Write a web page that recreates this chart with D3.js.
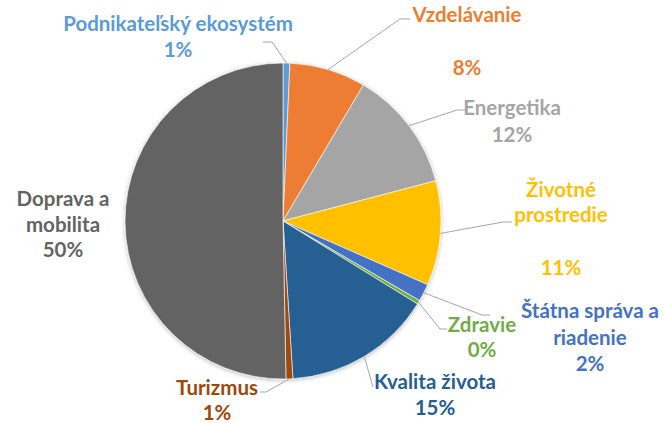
<!DOCTYPE html>
<html>
<head>
<meta charset="utf-8">
<script src="https://cdn.jsdelivr.net/npm/d3@7/dist/d3.min.js"></script>
<style>
    body { margin: 0; background: #ffffff; }
    svg { display: block; }
    .pc-label { font-family: Lato, "Open Sans", sans-serif; font-weight: bold; }
</style>
</head>
<body>
<div id="chart"></div>
<script>
/* data (percent of total) */
var categories = ["Podnikateľský ekosystém", "Vzdelávanie", "Energetika", "Životné prostredie",
                  "Štátna správa a riadenie", "Zdravie", "Kvalita života", "Turizmus", "Doprava a mobilita"];
var values = [0.7, 7.8, 12.4, 10.7, 1.8, 0.4, 15.2, 0.7, 50.3];
var colors = ["#5B9BD5", "#ED7D31", "#A5A5A5", "#FFC000", "#4472C4", "#70AD47", "#255E91", "#9E480E", "#636363"];

/* label layout: words per line, centre x, centre y of each line, leader line points */
var labelLayout = [
    {wrap: [2], x: 178, ys: [24, 50], leader: [[272, 42], [263, 42]]},
    {wrap: [1], x: 467, ys: [15, 68], leader: [[400, 19], [410, 19]]},
    {wrap: [1], x: 512, ys: [108, 135], leader: [[457, 110], [465, 110]]},
    {wrap: [1, 1], x: 561, ys: [190, 215, 268], leader: [[503, 222], [512, 222]]},
    {wrap: [3, 1], x: 590, ys: [311, 338, 364], leader: [[482, 315], [490, 315]]},
    {wrap: [1], x: 482, ys: [325, 350], leader: [[440, 329], [447, 329]]},
    {wrap: [2], x: 435, ys: [382, 408], leader: [[373, 387]]},
    {wrap: [1], x: 217, ys: [388, 413], leader: [[266, 392], [260, 392]]},
    {wrap: [2, 1], x: 63, ys: [199, 225, 250], leader: null}
];

var chartWidth = 664,
    chartHeight = 423;
var center = {x: 283, y: 221};
var radius = 158;
var fontSize = 20.5;

var data = categories.map(function(c, i) {
    return {label: c, value: values[i], color: colors[i], layout: labelLayout[i]};
});

var svg = d3.select("#chart").append("svg")
            .attr("width", chartWidth)
            .attr("height", chartHeight);

var defs = svg.append("defs");
var filter = defs.append("filter")
            .attr("id", "pie-shadow")
            .attr("x", "-10%").attr("y", "-10%")
            .attr("width", "120%").attr("height", "120%");
filter.append("feDropShadow")
            .attr("dx", 0)
            .attr("dy", 1)
            .attr("stdDeviation", 2)
            .attr("flood-color", "#000000")
            .attr("flood-opacity", 0.28);

var pie = d3.pie()
            .sort(null)
            .value(function(d) { return d.value; });
var arc = d3.arc()
            .innerRadius(0)
            .outerRadius(radius);
var edgeArc = d3.arc()
            .innerRadius(radius)
            .outerRadius(radius);

var arcs = pie(data);

var pieGroup = svg.append("g")
            .attr("transform", "translate(" + center.x + "," + center.y + ")")
            .attr("filter", "url(#pie-shadow)");
pieGroup.selectAll("path").data(arcs)
            .enter()
            .append("path")
            .attr("d", arc)
            .attr("fill", function(d) { return d.data.color; })
            .attr("stroke", "#ffffff")
            .attr("stroke-width", 0.6);

/* leader lines from slice edge to label */
var line = d3.line();
var leaderGroup = svg.append("g");
arcs.forEach(function(d) {
    if (!d.data.layout.leader) {
        return;
    }
    var p = edgeArc.centroid(d);
    var pts = [[center.x + p[0], center.y + p[1]]].concat(d.data.layout.leader);
    leaderGroup.append("path")
            .attr("d", line(pts))
            .attr("fill", "none")
            .attr("stroke", "#A6A6A6")
            .attr("stroke-width", 1);
});

/* labels */
var labelGroup = svg.append("g").attr("class", "pc-label");
arcs.forEach(function(d) {
    var lay = d.data.layout;
    var words = d.data.label.split(" ");
    var lines = [];
    var k = 0;
    lay.wrap.forEach(function(n) {
        lines.push(words.slice(k, k + n).join(" "));
        k = k + n;
    });
    lines.push(Math.round(d.value) + "%");
    lines.forEach(function(t, i) {
        labelGroup.append("text")
            .attr("x", lay.x)
            .attr("y", lay.ys[i])
            .attr("dy", "0.36em")
            .attr("text-anchor", "middle")
            .attr("font-size", fontSize)
            .attr("fill", d.data.color)
            .text(t);
    });
});
</script>
</body>
</html>
